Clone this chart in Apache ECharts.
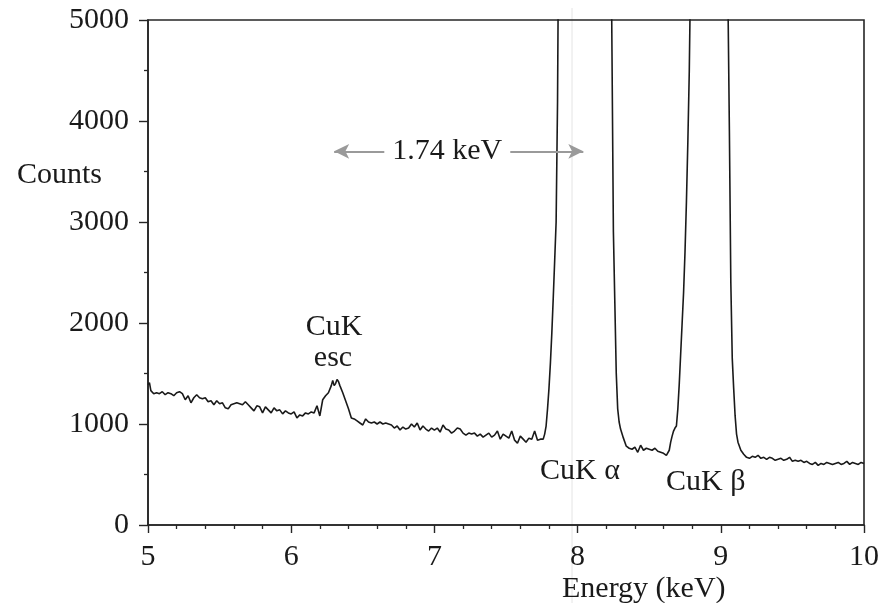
<!DOCTYPE html>
<html>
<head>
<meta charset="utf-8">
<script src="https://cdn.jsdelivr.net/npm/echarts@6/dist/echarts.min.js"></script>
<style>
  html, body { margin: 0; padding: 0; background: #fff; }
  #chart { width: 882px; height: 603px; }
</style>
</head>
<body>
<div id="chart"></div>
<script>
// X-ray spectrum: energy channels (keV) and recorded counts
const energy = [
  5.00, 5.01, 5.02, 5.04, 5.06, 5.08, 5.10, 5.12, 5.14, 5.16, 5.18, 5.20, 5.22, 5.24, 5.26, 5.28,
  5.30, 5.32, 5.34, 5.36, 5.38, 5.40, 5.42, 5.44, 5.46, 5.48, 5.50, 5.52, 5.54, 5.56, 5.58, 5.60,
  5.62, 5.64, 5.66, 5.68, 5.70, 5.72, 5.74, 5.76, 5.78, 5.80, 5.82, 5.84, 5.86, 5.88, 5.90, 5.92,
  5.94, 5.96, 5.98, 6.00, 6.02, 6.04, 6.06, 6.08, 6.10, 6.12, 6.14, 6.16, 6.18, 6.20, 6.22, 6.24,
  6.26, 6.28, 6.29, 6.30, 6.31, 6.32, 6.33, 6.34, 6.36, 6.38, 6.40, 6.42, 6.44, 6.46, 6.48, 6.50,
  6.52, 6.54, 6.56, 6.58, 6.60, 6.62, 6.64, 6.66, 6.68, 6.70, 6.72, 6.74, 6.76, 6.78, 6.80, 6.82,
  6.84, 6.86, 6.88, 6.90, 6.92, 6.94, 6.96, 6.98, 7.00, 7.02, 7.04, 7.06, 7.08, 7.10, 7.12, 7.14,
  7.16, 7.18, 7.20, 7.22, 7.24, 7.26, 7.28, 7.30, 7.32, 7.34, 7.36, 7.38, 7.40, 7.42, 7.44, 7.46,
  7.48, 7.50, 7.52, 7.54, 7.56, 7.58, 7.60, 7.62, 7.64, 7.66, 7.68, 7.70, 7.72, 7.74, 7.76, 7.77,
  7.78, 7.79, 7.80, 7.81, 7.82, 7.83, 7.84, 7.85, 7.86, 7.87, 7.88, 7.92, 7.98, 8.05, 8.12, 8.18,
  8.22, 8.23, 8.24, 8.25, 8.26, 8.27, 8.28, 8.29, 8.30, 8.32, 8.34, 8.36, 8.38, 8.40, 8.42, 8.44,
  8.46, 8.48, 8.50, 8.52, 8.54, 8.56, 8.58, 8.60, 8.62, 8.64, 8.65, 8.66, 8.67, 8.68, 8.69, 8.70,
  8.71, 8.72, 8.73, 8.74, 8.75, 8.76, 8.77, 8.78, 8.79, 8.80, 8.85, 8.92, 8.99, 9.03, 9.04, 9.05,
  9.06, 9.07, 9.08, 9.09, 9.10, 9.11, 9.12, 9.14, 9.16, 9.18, 9.20, 9.22, 9.24, 9.26, 9.28, 9.30,
  9.32, 9.34, 9.36, 9.38, 9.40, 9.42, 9.44, 9.46, 9.48, 9.50, 9.52, 9.54, 9.56, 9.58, 9.60, 9.62,
  9.64, 9.66, 9.68, 9.70, 9.72, 9.74, 9.76, 9.78, 9.80, 9.82, 9.84, 9.86, 9.88, 9.90, 9.92, 9.94,
  9.96, 9.98, 10.00
];
const counts = [
  1390, 1410, 1330, 1300, 1310, 1300, 1320, 1290, 1310, 1300, 1280, 1310, 1320, 1300, 1240, 1280,
  1210, 1260, 1290, 1260, 1250, 1260, 1220, 1230, 1190, 1230, 1200, 1210, 1160, 1150, 1190, 1200,
  1210, 1200, 1190, 1220, 1190, 1160, 1130, 1180, 1170, 1110, 1170, 1140, 1110, 1160, 1130, 1140,
  1100, 1130, 1110, 1100, 1120, 1060, 1090, 1080, 1110, 1100, 1120, 1110, 1180, 1080, 1240, 1280,
  1310, 1380, 1430, 1380, 1400, 1440, 1420, 1380, 1310, 1230, 1150, 1060, 1050, 1030, 1010, 990,
  1050, 1020, 1010, 1020, 1000, 1020, 1000, 1010, 1000, 990, 960, 980, 940, 970, 950, 960,
  1000, 970, 1010, 940, 980, 950, 930, 960, 940, 960, 920, 990, 950, 940, 910, 930,
  960, 950, 910, 890, 910, 900, 910, 880, 900, 870, 890, 910, 870, 890, 930, 850,
  900, 880, 860, 930, 840, 810, 880, 850, 820, 860, 850, 930, 840, 850, 850, 900,
  980, 1150, 1350, 1600, 1900, 2250, 2620, 3000, 4200, 6500, 10000, 22000, 38000, 46000, 38000, 20000,
  9000, 6500, 4700, 2900, 2200, 1500, 1150, 1020, 950, 860, 780, 760, 750, 770, 720, 790,
  740, 760, 750, 740, 760, 730, 720, 710, 690, 740, 820, 880, 930, 960, 980, 1150,
  1400, 1700, 2000, 2300, 2700, 3200, 3800, 4500, 5600, 8000, 14000, 17000, 13000, 8000, 6300, 5200,
  3900, 2400, 1650, 1350, 1080, 900, 820, 740, 700, 670, 660, 680, 670, 690, 660, 670,
  650, 670, 660, 640, 650, 660, 640, 650, 670, 630, 640, 630, 640, 620, 630, 610,
  600, 620, 590, 610, 600, 620, 610, 600, 610, 620, 600, 610, 630, 600, 620, 610,
  600, 620, 610
];

// Energy separation between the escape peak and Cu Kα
const escEnergy = 6.30;
const kAlphaEnergy = 8.04;
const arrowCounts = 3700;
const separationLabel = '1.74 keV';
const separationLabelEnergy = 7.09;

const font = '"Liberation Serif", "DejaVu Serif", serif';
const ink = '#1a1a1a';
const fs = 30;

const chart = echarts.init(document.getElementById('chart'), null, { renderer: 'canvas' });

chart.setOption({
  animation: false,
  backgroundColor: '#ffffff',
  grid: {
    left: 148, right: 16, top: 20, bottom: 78,
    show: true, borderColor: '#262626', borderWidth: 1.6
  },
  xAxis: {
    type: 'value', min: 5, max: 10, interval: 1,
    axisLine: { show: true, onZero: false, lineStyle: { color: '#262626', width: 1.6 } },
    axisTick: { show: true, length: 8, lineStyle: { color: '#262626', width: 1.4 } },
    minorTick: { show: true, splitNumber: 5, length: 4, lineStyle: { color: '#262626', width: 1.3 } },
    splitLine: { show: false },
    axisLabel: { fontFamily: font, fontSize: fs, color: ink, margin: 17, formatter: v => String(v) }
  },
  yAxis: {
    type: 'value', min: 0, max: 5000, interval: 1000,
    axisLine: { show: true, lineStyle: { color: '#262626', width: 1.6 } },
    axisTick: { show: true, length: 9, lineStyle: { color: '#262626', width: 1.4 } },
    minorTick: { show: true, splitNumber: 2, length: 4, lineStyle: { color: '#262626', width: 1.3 } },
    splitLine: { show: false },
    axisLabel: { fontFamily: font, fontSize: fs, color: ink, margin: 19, formatter: v => String(v) }
  },
  series: [{
    type: 'line',
    data: energy.map((e, i) => [e, counts[i]]),
    showSymbol: false,
    clip: true,
    lineStyle: { color: '#1a1a1a', width: 1.6 },
    silent: true,
    markLine: {
      silent: true,
      symbol: ['arrow', 'arrow'],
      symbolSize: [11, 15],
      lineStyle: { color: '#9a9a9a', width: 2, type: 'solid' },
      label: { show: false },
      data: [[
        { coord: [escEnergy, arrowCounts] },
        { coord: [kAlphaEnergy, arrowCounts] }
      ]]
    },
    markPoint: {
      silent: true,
      symbol: 'rect',
      symbolSize: 1,
      itemStyle: { color: 'rgba(0,0,0,0)' },
      label: {
        show: true, position: 'inside', formatter: separationLabel,
        fontFamily: font, fontSize: fs, color: ink,
        backgroundColor: '#ffffff', padding: [0, 8]
      },
      data: [{ coord: [separationLabelEnergy, arrowCounts] }]
    }
  }],
  graphic: [
    { type: 'line', z: -1, shape: { x1: 572, y1: 8, x2: 572, y2: 603 },
      style: { stroke: '#e4e4e4', lineWidth: 1 } },
    { type: 'text', x: 17, y: 175,
      style: { text: 'Counts', font: fs + 'px ' + font, fill: ink, verticalAlign: 'middle' } },
    { type: 'text', x: 562, y: 589,
      style: { text: 'Energy (keV)', font: fs + 'px ' + font, fill: ink, verticalAlign: 'middle' } },
    { type: 'text', x: 334, y: 327,
      style: { text: 'CuK', font: fs + 'px ' + font, fill: ink, align: 'center', verticalAlign: 'middle' } },
    { type: 'text', x: 333, y: 358,
      style: { text: 'esc', font: fs + 'px ' + font, fill: ink, align: 'center', verticalAlign: 'middle' } },
    { type: 'text', x: 540, y: 471,
      style: { text: 'CuK α', font: fs + 'px ' + font, fill: ink, verticalAlign: 'middle' } },
    { type: 'text', x: 666, y: 482,
      style: { text: 'CuK β', font: fs + 'px ' + font, fill: ink, verticalAlign: 'middle' } }
  ]
});
</script>
</body>
</html>
